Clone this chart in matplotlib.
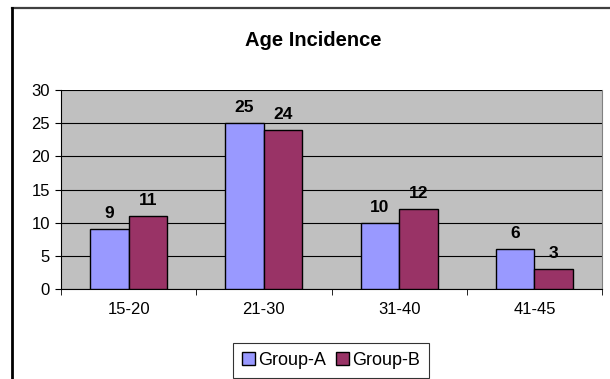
import matplotlib
matplotlib.use("Agg")
import matplotlib.pyplot as plt
import numpy as np
from matplotlib.lines import Line2D

categories = ["15-20", "21-30", "31-40", "41-45"]
group_a = [9, 25, 10, 6]
group_b = [11, 24, 12, 3]
series_names = ["Group-A", "Group-B"]
yticks = [0, 5, 10, 15, 20, 25, 30]

plt.rcParams['font.family'] = ['Liberation Sans', 'DejaVu Sans']

fig = plt.figure(figsize=(6.10, 3.79), dpi=100)
ax = fig.add_axes([61/610, 1-289/379, (602-61)/610, (289-90)/379])
ax.set_facecolor("#C0C0C0")

x = np.arange(len(categories))
w = 0.285
ba = ax.bar(x - w/2, group_a, w, color="#9999FF", edgecolor="black", linewidth=1.0, label=series_names[0], zorder=3)
bb = ax.bar(x + w/2, group_b, w, color="#993366", edgecolor="black", linewidth=1.0, label=series_names[1], zorder=3)

for bars in (ba, bb):
    for r in bars:
        ax.text(r.get_x() + r.get_width()/2, r.get_height() + 1.2, f"{int(r.get_height())}",
                ha="center", va="bottom", fontsize=12.5, fontweight="bold")

ax.set_xlim(-0.5, len(categories) - 0.5)
ax.set_ylim(0, 30)
ax.set_yticks(yticks)
ax.set_yticklabels([str(t) for t in yticks], fontsize=12)
ax.yaxis.grid(True, color="black", linewidth=0.8, zorder=1)
ax.set_axisbelow(True)

ax.set_xticks(x)
ax.set_xticklabels(categories, fontsize=12)
ax.tick_params(axis="x", length=0, pad=9)
ax.set_xticks(np.arange(len(categories) + 1) - 0.5, minor=True)
ax.tick_params(axis="x", which="minor", length=4, direction="out", color="black")
ax.tick_params(axis="y", length=4, direction="out", color="black", pad=4)

ax.spines["top"].set_visible(False)
ax.spines["right"].set_color("#808080")
ax.spines["left"].set_color("black")
ax.spines["bottom"].set_color("black")

fig.text(313/610, 1-40/379, "Age Incidence", ha="center", va="center", fontsize=14.5, fontweight="bold")

leg = fig.legend(handles=[ba, bb], labels=series_names, loc="center", bbox_to_anchor=(331/610, 1-360.5/379),
                 ncol=2, fontsize=13, frameon=True, fancybox=False, edgecolor="black",
                 handlelength=0.72, handleheight=0.72, handletextpad=0.2, columnspacing=0.5,
                 borderpad=0.5, borderaxespad=0)
leg.get_frame().set_linewidth(0.8)

fig.add_artist(Line2D([12.5/610, 1.0], [1-8/379, 1-8/379], transform=fig.transFigure, color="#404040", linewidth=1.6))
fig.add_artist(Line2D([12.5/610, 12.5/610], [0, 1-8/379], transform=fig.transFigure, color="black", linewidth=2.0))

fig.savefig("out.png", dpi=100)
